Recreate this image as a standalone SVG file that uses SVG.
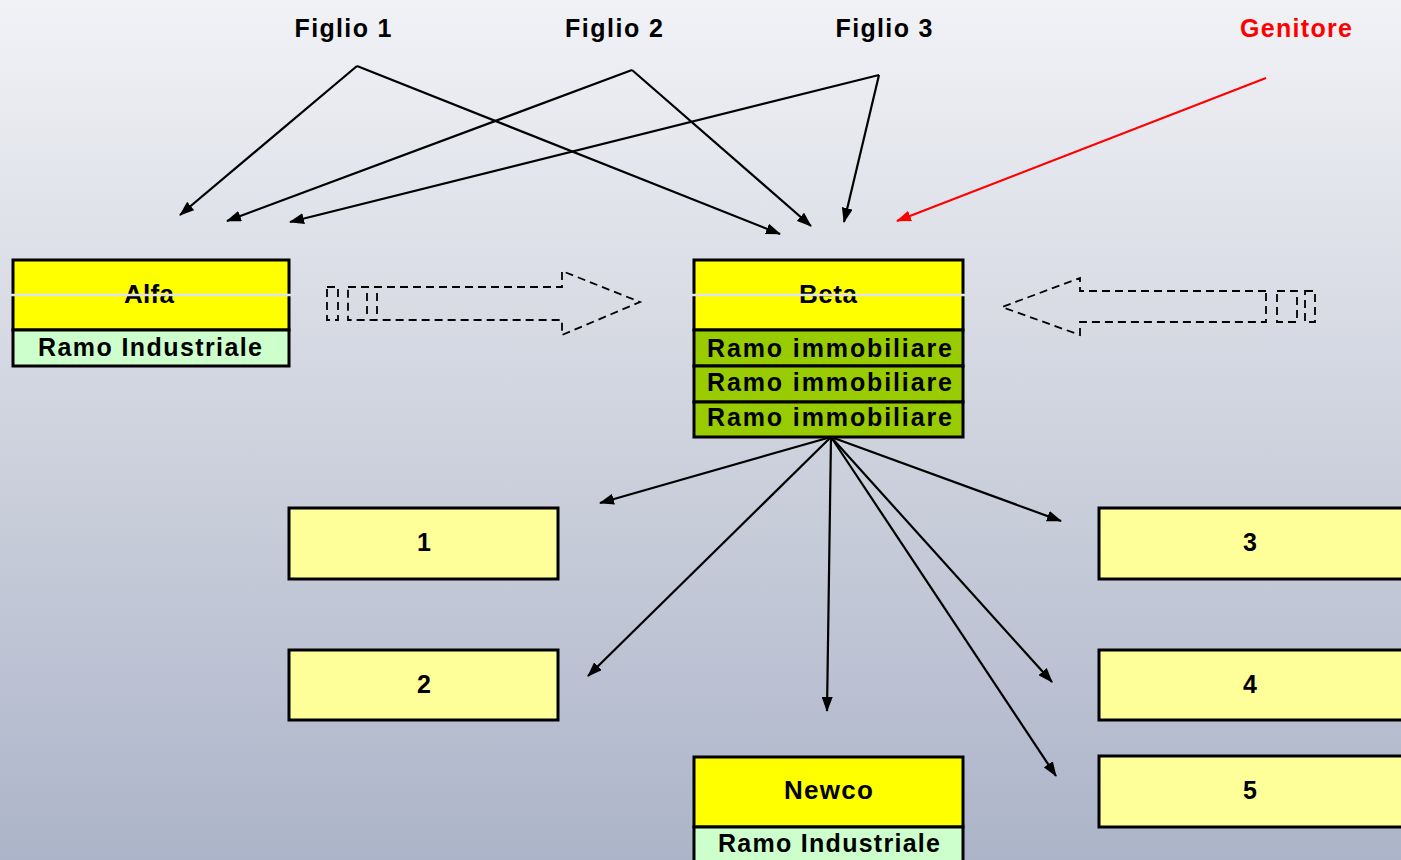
<svg xmlns="http://www.w3.org/2000/svg" width="1401" height="860" viewBox="0 0 1401 860">
  <defs>
    <linearGradient id="bg" x1="0" y1="0" x2="0" y2="1">
      <stop offset="0" stop-color="#f1f2f6"/>
      <stop offset="0.5" stop-color="#cfd3de"/>
      <stop offset="1" stop-color="#acb4c9"/>
    </linearGradient>
    <marker id="ah" viewBox="0 0 15 11" refX="14" refY="5.5" markerWidth="15" markerHeight="11" orient="auto" markerUnits="userSpaceOnUse">
      <path d="M0,0 L15,5.5 L0,11 z" fill="#000"/>
    </marker>
    <marker id="ahRed" viewBox="0 0 15 11" refX="14" refY="5.5" markerWidth="15" markerHeight="11" orient="auto" markerUnits="userSpaceOnUse">
      <path d="M0,0 L15,5.5 L0,11 z" fill="#ff0000"/>
    </marker>
  </defs>
  <style>
    text { font-family: "Liberation Sans", Arial, sans-serif; font-weight: bold; fill: #000; text-anchor: middle; }
    .lbl { font-size: 25px; }
    .name { font-size: 26px; }
    .row { font-size: 25px; }
    .num { font-size: 25px; }
    .box { stroke: #000; stroke-width: 3; }
    .yel { fill: #ffff00; }
    .lgreen { fill: #ccffcc; }
    .green { fill: #99cc00; }
    .pale { fill: #ffff99; }
    .conn { stroke: #000; stroke-width: 2.2; fill: none; marker-end: url(#ah); }
    .dash { stroke: #000; stroke-width: 1.8; fill: none; stroke-dasharray: 8 5; }
    .gap { stroke: #dfe2ea; stroke-width: 2.5; }
  </style>

  <rect x="0" y="0" width="1401" height="860" fill="url(#bg)"/>

  <!-- top labels -->
  <g id="figlio1"><text class="lbl" x="343" y="37" textLength="97" lengthAdjust="spacing">Figlio 1</text></g>
  <g id="figlio2"><text class="lbl" x="614" y="37" textLength="98" lengthAdjust="spacing">Figlio 2</text></g>
  <g id="figlio3"><text class="lbl" x="884" y="37" textLength="97" lengthAdjust="spacing">Figlio 3</text></g>
  <g id="genitore"><text class="lbl" x="1296" y="37" textLength="112" lengthAdjust="spacing" style="fill:#ff0000">Genitore</text></g>

  <!-- connectors -->
  <g id="connectors">
    <line class="conn" x1="357" y1="66" x2="180" y2="215"/>
    <line class="conn" x1="357" y1="66" x2="780" y2="234"/>
    <line class="conn" x1="632" y1="70" x2="227" y2="221"/>
    <line class="conn" x1="632" y1="70" x2="811" y2="226"/>
    <line class="conn" x1="879" y1="75" x2="290" y2="222"/>
    <line class="conn" x1="879" y1="75" x2="844" y2="222"/>
    <line x1="1266" y1="78" x2="897" y2="221" stroke="#ff0000" stroke-width="2.2" marker-end="url(#ahRed)"/>

    <line class="conn" x1="831" y1="437" x2="600" y2="503"/>
    <line class="conn" x1="831" y1="437" x2="588" y2="676"/>
    <line class="conn" x1="831" y1="437" x2="827" y2="711"/>
    <line class="conn" x1="831" y1="437" x2="1061" y2="521"/>
    <line class="conn" x1="831" y1="437" x2="1052" y2="682"/>
    <line class="conn" x1="831" y1="437" x2="1056" y2="776"/>

    <!-- striped block arrow pointing right -->
    <g id="blockRight">
      <path class="dash" d="M348,287 H562 V271 L640,302 L562,335 V320 H348 Z"/>
      <rect class="dash" x="327" y="287" width="11" height="33"/>
      <line class="dash" x1="367" y1="293" x2="367" y2="315" stroke-dasharray="5 4"/>
      <line class="dash" x1="377" y1="293" x2="377" y2="315" stroke-dasharray="5 4"/>
    </g>
    <!-- striped block arrow pointing left -->
    <g id="blockLeft">
      <path class="dash" d="M1266,291 H1080 V278 L1002,307 L1080,335 V322 H1266 Z"/>
      <rect class="dash" x="1277" y="291" width="20" height="31"/>
      <rect class="dash" x="1305" y="291" width="10" height="31"/>
    </g>
  </g>

  <!-- Alfa -->
  <g id="alfa">
    <rect class="box yel" x="13" y="260" width="276" height="70"/>
    <rect class="box lgreen" x="13" y="330" width="276" height="36"/>
    <text class="name" x="149" y="303" textLength="50" lengthAdjust="spacing">Alfa</text>
    <line class="gap" x1="11" y1="295" x2="291" y2="295"/>
    <text class="row" x="150" y="356" textLength="224" lengthAdjust="spacing">Ramo Industriale</text>
  </g>

  <!-- Beta -->
  <g id="beta">
    <rect class="box yel" x="694" y="260" width="269" height="70"/>
    <rect class="box green" x="694" y="330" width="269" height="36"/>
    <rect class="box green" x="694" y="366" width="269" height="36"/>
    <rect class="box green" x="694" y="402" width="269" height="35"/>
    <text class="name" x="828" y="303" textLength="58" lengthAdjust="spacing">Beta</text>
    <line class="gap" x1="692" y1="295" x2="965" y2="295"/>
    <text class="row" x="829.5" y="357" textLength="245" lengthAdjust="spacing">Ramo immobiliare</text>
    <text class="row" x="829.5" y="391" textLength="245" lengthAdjust="spacing">Ramo immobiliare</text>
    <text class="row" x="829.5" y="426" textLength="245" lengthAdjust="spacing">Ramo immobiliare</text>
  </g>

  <!-- numbered companies -->
  <g id="n1">
    <rect class="box pale" x="289" y="508" width="269" height="71"/>
    <text class="num" x="424" y="551">1</text>
  </g>
  <g id="n2">
    <rect class="box pale" x="289" y="650" width="269" height="70"/>
    <text class="num" x="424" y="693">2</text>
  </g>
  <g id="n3">
    <rect class="box pale" x="1099" y="508" width="320" height="71"/>
    <text class="num" x="1250" y="551">3</text>
  </g>
  <g id="n4">
    <rect class="box pale" x="1099" y="650" width="320" height="70"/>
    <text class="num" x="1250" y="693">4</text>
  </g>
  <g id="n5">
    <rect class="box pale" x="1099" y="756" width="320" height="71"/>
    <text class="num" x="1250" y="799">5</text>
  </g>

  <!-- Newco -->
  <g id="newco">
    <rect class="box yel" x="694" y="757" width="269" height="70"/>
    <rect class="box lgreen" x="694" y="827" width="269" height="40"/>
    <text class="name" x="828.5" y="799" textLength="89" lengthAdjust="spacing">Newco</text>
    <text class="row" x="829" y="852" textLength="222" lengthAdjust="spacing">Ramo Industriale</text>
  </g>
</svg>
